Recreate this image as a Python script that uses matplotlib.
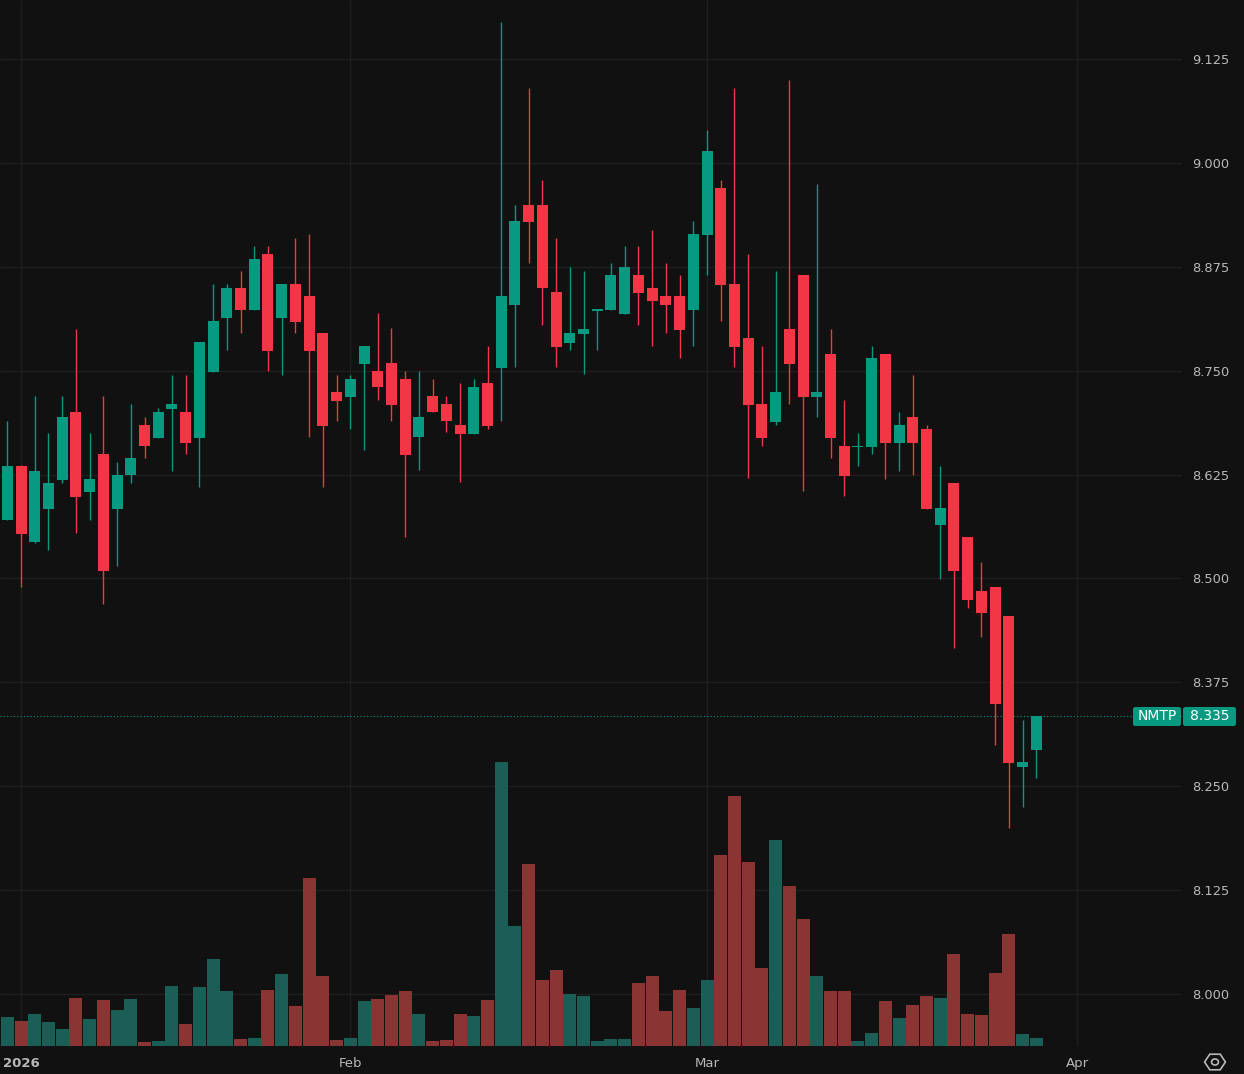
import numpy as np
import matplotlib
matplotlib.use("Agg")
import matplotlib.pyplot as plt
from matplotlib.patches import FancyBboxPatch, RegularPolygon, Circle

# daily OHLC (76 sessions, Jan -> late Mar 2026)
opens = [8.570, 8.635, 8.544, 8.584, 8.618, 8.700, 8.604, 8.650, 8.584, 8.624,
         8.685, 8.669, 8.704, 8.700, 8.669, 8.748, 8.813, 8.850, 8.823, 8.890,
         8.813, 8.854, 8.840, 8.795, 8.724, 8.718, 8.758, 8.749, 8.759, 8.740,
         8.670, 8.720, 8.710, 8.685, 8.674, 8.735, 8.753, 8.829, 8.949, 8.949,
         8.845, 8.783, 8.794, 8.822, 8.823, 8.818, 8.865, 8.850, 8.840, 8.840,
         8.823, 8.913, 8.970, 8.854, 8.789, 8.710, 8.688, 8.800, 8.865, 8.718,
         8.770, 8.659, 8.658, 8.658, 8.770, 8.663, 8.694, 8.680, 8.564, 8.615,
         8.550, 8.485, 8.490, 8.455, 8.273, 8.294]
highs = [8.689, 8.636, 8.720, 8.675, 8.720, 8.800, 8.675, 8.720, 8.640, 8.710,
         8.694, 8.705, 8.745, 8.745, 8.785, 8.854, 8.854, 8.870, 8.900, 8.900,
         8.854, 8.910, 8.914, 8.795, 8.745, 8.745, 8.780, 8.819, 8.801, 8.749,
         8.749, 8.740, 8.720, 8.735, 8.740, 8.780, 9.170, 8.949, 9.090, 8.979,
         8.910, 8.875, 8.870, 8.824, 8.880, 8.900, 8.900, 8.919, 8.880, 8.865,
         8.930, 9.040, 8.979, 9.090, 8.890, 8.780, 8.870, 9.100, 8.865, 8.975,
         8.800, 8.715, 8.675, 8.780, 8.770, 8.700, 8.745, 8.685, 8.635, 8.615,
         8.550, 8.520, 8.490, 8.455, 8.330, 8.335]
lows = [8.570, 8.490, 8.543, 8.534, 8.615, 8.555, 8.570, 8.469, 8.515, 8.615,
        8.645, 8.669, 8.629, 8.650, 8.610, 8.748, 8.775, 8.795, 8.823, 8.750,
        8.745, 8.795, 8.670, 8.610, 8.689, 8.680, 8.655, 8.715, 8.690, 8.550,
        8.630, 8.700, 8.676, 8.616, 8.674, 8.680, 8.690, 8.755, 8.880, 8.805,
        8.755, 8.775, 8.746, 8.775, 8.823, 8.818, 8.805, 8.780, 8.795, 8.765,
        8.780, 8.865, 8.810, 8.754, 8.621, 8.659, 8.685, 8.710, 8.605, 8.694,
        8.645, 8.599, 8.635, 8.650, 8.620, 8.629, 8.625, 8.583, 8.499, 8.416,
        8.465, 8.430, 8.300, 8.200, 8.225, 8.260]
closes = [8.635, 8.554, 8.629, 8.615, 8.694, 8.598, 8.620, 8.509, 8.625, 8.645,
          8.659, 8.700, 8.710, 8.663, 8.785, 8.810, 8.850, 8.823, 8.884, 8.774,
          8.854, 8.809, 8.774, 8.683, 8.714, 8.740, 8.780, 8.730, 8.709, 8.649,
          8.694, 8.700, 8.689, 8.674, 8.730, 8.683, 8.840, 8.930, 8.929, 8.849,
          8.779, 8.795, 8.800, 8.824, 8.865, 8.875, 8.843, 8.834, 8.829, 8.799,
          8.914, 9.014, 8.853, 8.779, 8.709, 8.669, 8.724, 8.758, 8.718, 8.724,
          8.669, 8.623, 8.659, 8.765, 8.663, 8.685, 8.663, 8.584, 8.585, 8.509,
          8.474, 8.459, 8.349, 8.278, 8.279, 8.335]
volumes = [290, 250, 320, 240, 170, 480, 270, 460, 360, 470,
           40, 50, 600, 220, 590, 870, 550, 70, 80, 560,
           720, 400, 1680, 700, 60, 80, 450, 470, 510, 550,
           320, 50, 60, 320, 300, 460, 2840, 1200, 1820, 660,
           760, 520, 500, 50, 70, 70, 630, 700, 350, 560,
           380, 660, 1910, 2500, 1840, 780, 2060, 1600, 1270, 700,
           550, 550, 50, 130, 450, 280, 410, 500, 480, 920,
           320, 310, 730, 1120, 120, 80]

price_ticks = [8.000, 8.125, 8.250, 8.375, 8.500, 8.625, 8.750, 8.875, 9.000, 9.125]
month_pos = [1, 25, 51, 78]
month_labels = ["2026", "Feb", "Mar", "Apr"]
last_price = 8.335
ticker = "NMTP"

BG = "#111111"
GRID = "#1f1f1f"
UP = "#089981"
DOWN = "#f23645"
VUP = "#1a5e56"
VDOWN = "#8a3434"
TXT = "#b8b8b8"

W, H = 1244, 1074
fig = plt.figure(figsize=(W / 100, H / 100), dpi=100, facecolor=BG)
ax = fig.add_axes([0, 28 / H, 1182 / W, 1046 / H])
ax.set_facecolor(BG)

o = np.array(opens)
c = np.array(closes)
hi = np.array(highs)
lo = np.array(lows)
x = np.arange(len(o))
up = c >= o

xlim = (-7.3 / 13.72, (1182 - 7.3) / 13.72)
ylim = (9.125 - 987 / 831.1, 9.125 + 59 / 831.1)
ax.set_xlim(xlim)
ax.set_ylim(ylim)

# volume overlay on its own scale, sitting under the price axes
axv = ax.twinx()
axv.set_zorder(0)
ax.set_zorder(1)
ax.patch.set_visible(False)
axv.set_facecolor(BG)

# grid drawn in the lower axes so the volume bars cover it
axv.hlines(price_ticks, xlim[0], xlim[1], colors=GRID, linewidth=1.0,
           transform=ax.transData, zorder=0)
axv.vlines(month_pos, ylim[0], ylim[1], colors=GRID, linewidth=1.0,
           transform=ax.transData, zorder=0)

vcol = [VUP if u else VDOWN for u in up]
axv.bar(x, volumes, width=0.95, color=vcol, linewidth=0, zorder=1)
axv.set_ylim(0, max(volumes) * 1046 / 284)
axv.set_yticks([])
for s in axv.spines.values():
    s.set_visible(False)

# candles
col = np.where(up, UP, DOWN)
ax.vlines(x, lo, hi, colors=col, linewidth=1.0, zorder=3)
body_lo = np.minimum(o, c)
body_h = np.maximum(np.abs(c - o), 0.0018)
ax.bar(x, body_h, bottom=body_lo, width=0.8, color=col, linewidth=0, zorder=4)

ax.set_yticks(price_ticks)
ax.set_yticklabels([f"{p:.3f}" for p in price_ticks])
ax.yaxis.tick_right()
ax.tick_params(axis="y", length=0, pad=7, labelsize=9.4, labelcolor=TXT)
ax.set_xticks(month_pos)
ax.set_xticklabels(month_labels)
ax.tick_params(axis="x", length=0, pad=8, labelsize=9.5, labelcolor=TXT)
ax.get_xticklabels()[0].set_fontweight("bold")
for s in ax.spines.values():
    s.set_visible(False)

# last price line and labels
ax.axhline(last_price, color=UP, linestyle=(0, (1, 2)), linewidth=0.8, zorder=2)


def px_box(x0, y0, w, h):
    return FancyBboxPatch((x0 / W, 1 - (y0 + h) / H), w / W, h / H,
                          boxstyle="round,pad=0,rounding_size=0.002",
                          transform=fig.transFigure, facecolor=UP,
                          edgecolor="none", zorder=10)


fig.patches.append(px_box(1133, 707, 48, 19))
fig.patches.append(px_box(1183, 707, 53, 19))
fig.text(1157 / W, 1 - 716.5 / H, ticker, color="white", fontsize=10,
         ha="center", va="center", zorder=11)
fig.text(1209.5 / W, 1 - 716.5 / H, f"{last_price:.3f}", color="white",
         fontsize=10, ha="center", va="center", zorder=11)

# settings icon bottom right
fig.patches.append(RegularPolygon((1215 / W, 1 - 1062 / H), 6, radius=9 / H,
                                  orientation=np.pi / 2, transform=fig.transFigure,
                                  facecolor="none", edgecolor=TXT, linewidth=1.2))
fig.patches.append(Circle((1215 / W, 1 - 1062 / H), 3 / H, transform=fig.transFigure,
                          facecolor="none", edgecolor=TXT, linewidth=1.2))

fig.savefig("out.png", dpi=100, facecolor=BG)
